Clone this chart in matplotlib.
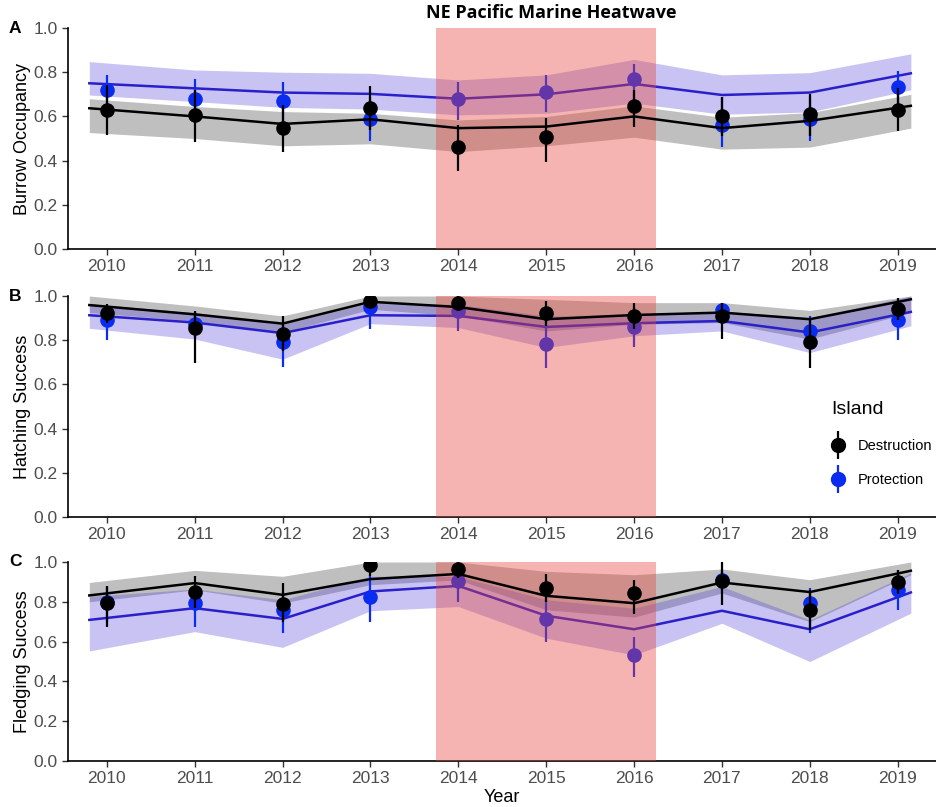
import numpy as np
import matplotlib
matplotlib.use("Agg")
import matplotlib.pyplot as plt
from matplotlib.lines import Line2D
from matplotlib.legend_handler import HandlerTuple

plt.rcParams['font.family'] = ['Liberation Sans', 'DejaVu Sans']

years = [2010, 2011, 2012, 2013, 2014, 2015, 2016, 2017, 2018, 2019]
fit_x = [2009.8, 2011, 2012, 2013, 2014, 2015, 2016, 2017, 2018, 2019.15]
heatwave = (2013.75, 2016.25)

# Panel A - burrow occupancy
a_dest_fit = [0.637, 0.600, 0.566, 0.587, 0.547, 0.554, 0.600, 0.547, 0.580, 0.648]
a_dest_lo = [0.527, 0.500, 0.467, 0.476, 0.441, 0.467, 0.506, 0.452, 0.461, 0.547]
a_dest_hi = [0.680, 0.645, 0.622, 0.614, 0.584, 0.600, 0.648, 0.596, 0.617, 0.700]
a_prot_fit = [0.750, 0.727, 0.708, 0.702, 0.680, 0.700, 0.747, 0.697, 0.708, 0.795]
a_prot_lo = [0.697, 0.667, 0.641, 0.633, 0.607, 0.614, 0.660, 0.610, 0.620, 0.720]
a_prot_hi = [0.848, 0.810, 0.800, 0.795, 0.765, 0.788, 0.858, 0.788, 0.798, 0.883]
a_dest_mean = [0.630, 0.607, 0.547, 0.640, 0.460, 0.505, 0.648, 0.602, 0.610, 0.630]
a_dest_low = [0.517, 0.486, 0.437, 0.540, 0.355, 0.392, 0.550, 0.510, 0.510, 0.532]
a_dest_high = [0.740, 0.720, 0.650, 0.738, 0.560, 0.595, 0.720, 0.690, 0.700, 0.730]
a_prot_mean = [0.720, 0.680, 0.670, 0.589, 0.680, 0.709, 0.770, 0.562, 0.589, 0.732]
a_prot_low = [0.650, 0.600, 0.580, 0.490, 0.584, 0.622, 0.675, 0.460, 0.490, 0.650]
a_prot_high = [0.788, 0.768, 0.757, 0.690, 0.757, 0.788, 0.837, 0.690, 0.690, 0.807]

# Panel B - hatching success
b_dest_fit = [0.959, 0.917, 0.875, 0.974, 0.950, 0.895, 0.914, 0.925, 0.895, 0.985]
b_dest_lo = [0.925, 0.887, 0.835, 0.940, 0.910, 0.842, 0.872, 0.880, 0.805, 0.925]
b_dest_hi = [1.000, 0.955, 0.910, 1.000, 1.000, 0.985, 0.970, 0.970, 0.935, 1.000]
b_prot_fit = [0.913, 0.880, 0.832, 0.913, 0.910, 0.860, 0.877, 0.887, 0.835, 0.928]
b_prot_lo = [0.854, 0.805, 0.714, 0.875, 0.857, 0.767, 0.820, 0.842, 0.744, 0.865]
b_prot_hi = [0.965, 0.925, 0.872, 0.970, 0.962, 0.910, 0.917, 0.932, 0.902, 1.000]
b_dest_mean = [0.922, 0.853, 0.827, 0.977, 0.970, 0.925, 0.910, 0.910, 0.790, 0.940]
b_dest_low = [0.880, 0.695, 0.750, 0.950, 0.930, 0.865, 0.850, 0.805, 0.674, 0.890]
b_dest_high = [0.962, 0.930, 0.910, 1.000, 1.000, 0.977, 0.967, 0.970, 0.900, 0.990]
b_prot_mean = [0.890, 0.872, 0.790, 0.950, 0.930, 0.782, 0.860, 0.935, 0.842, 0.890]
b_prot_low = [0.800, 0.810, 0.680, 0.850, 0.842, 0.672, 0.771, 0.900, 0.780, 0.800]
b_prot_high = [0.950, 0.928, 0.870, 1.000, 1.000, 0.890, 0.950, 0.970, 0.910, 0.970]

# Panel C - fledging success
c_dest_fit = [0.832, 0.894, 0.835, 0.914, 0.940, 0.830, 0.793, 0.897, 0.849, 0.956]
c_dest_lo = [0.800, 0.860, 0.793, 0.886, 0.910, 0.760, 0.723, 0.844, 0.700, 0.936]
c_dest_hi = [0.897, 0.958, 0.928, 1.000, 1.000, 0.953, 0.936, 0.965, 0.911, 1.000]
c_prot_fit = [0.709, 0.768, 0.714, 0.852, 0.880, 0.730, 0.662, 0.755, 0.662, 0.847]
c_prot_lo = [0.553, 0.650, 0.571, 0.755, 0.776, 0.617, 0.533, 0.692, 0.500, 0.743]
c_prot_hi = [0.827, 0.864, 0.810, 0.928, 0.928, 0.810, 0.768, 0.877, 0.709, 0.945]
c_dest_mean = [0.793, 0.849, 0.788, 0.983, 0.966, 0.869, 0.844, 0.902, 0.760, 0.900]
c_dest_low = [0.672, 0.770, 0.700, 0.930, 0.920, 0.800, 0.740, 0.785, 0.660, 0.840]
c_dest_high = [0.880, 0.928, 0.894, 1.000, 1.000, 0.940, 0.910, 1.000, 0.860, 0.960]
c_prot_mean = [0.800, 0.793, 0.760, 0.822, 0.902, 0.714, 0.533, 0.910, 0.793, 0.860]
c_prot_low = [0.700, 0.672, 0.642, 0.700, 0.800, 0.600, 0.424, 0.860, 0.642, 0.760]
c_prot_high = [0.877, 0.880, 0.850, 0.930, 1.000, 0.820, 0.625, 0.960, 0.869, 0.960]

panels = [
    ("A", "Burrow Occupancy", a_dest_fit, a_dest_lo, a_dest_hi, a_prot_fit, a_prot_lo, a_prot_hi,
     a_dest_mean, a_dest_low, a_dest_high, a_prot_mean, a_prot_low, a_prot_high),
    ("B", "Hatching Success", b_dest_fit, b_dest_lo, b_dest_hi, b_prot_fit, b_prot_lo, b_prot_hi,
     b_dest_mean, b_dest_low, b_dest_high, b_prot_mean, b_prot_low, b_prot_high),
    ("C", "Fledging Success", c_dest_fit, c_dest_lo, c_dest_hi, c_prot_fit, c_prot_lo, c_prot_hi,
     c_dest_mean, c_dest_low, c_dest_high, c_prot_mean, c_prot_low, c_prot_high),
]

# axes boxes in figure fraction [left, bottom, width, height]
boxes = [[0.0726, 0.6914, 0.927, 0.2739],
         [0.0726, 0.3594, 0.927, 0.2738],
         [0.0726, 0.0570, 0.927, 0.2466]]

blue_pt = '#0A2BF0'
blue_line = '#2A1FC9'
blue_fill = '#4B3BD8'

fig = plt.figure(figsize=(9.36, 8.07), dpi=100)
for (lab, ylab, dfit, dlo, dhi, pfit, plo, phi, dm, dl, dh, pm, pl, ph), box in zip(panels, boxes):
    ax = fig.add_axes(box)
    ax.fill_between(fit_x, dlo, dhi, color='black', alpha=0.25, linewidth=0, zorder=1)
    ax.fill_between(fit_x, plo, phi, color=blue_fill, alpha=0.3, linewidth=0, zorder=1)
    ax.plot(fit_x, pfit, color=blue_line, lw=1.8, zorder=2)
    pm_a = np.array(pm)
    dm_a = np.array(dm)
    ax.errorbar(years, pm, yerr=[pm_a - np.array(pl), np.array(ph) - pm_a], fmt='o',
                color=blue_pt, ms=9.5, elinewidth=1.6, capsize=0, zorder=3)
    ax.axvspan(heatwave[0], heatwave[1], ymin=0, ymax=1, color='#E8453C', alpha=0.4,
               linewidth=0, zorder=5)
    ax.plot(fit_x, dfit, color='black', lw=1.8, zorder=6)
    ax.errorbar(years, dm, yerr=[dm_a - np.array(dl), np.array(dh) - dm_a], fmt='o',
                color='black', ms=9.5, elinewidth=1.6, capsize=0, zorder=7)
    ax.set_xlim(2009.557, 2019.432)
    ax.set_ylim(0, 1)
    ax.set_xticks(years)
    ax.set_yticks([0, 0.2, 0.4, 0.6, 0.8, 1.0])
    ax.set_yticklabels(['0.0', '0.2', '0.4', '0.6', '0.8', '1.0'])
    ax.tick_params(labelsize=12.5, labelcolor='#4D4D4D', length=4, width=1, color='#333333')
    for s in ['top', 'right']:
        ax.spines[s].set_visible(False)
    for s in ['left', 'bottom']:
        ax.spines[s].set_linewidth(1.2)
        ax.spines[s].set_color('black')
    ax.set_ylabel(ylab, fontsize=13, color='black', labelpad=2)
    ax.text(-0.068, 1.0, lab, transform=ax.transAxes, fontsize=12.5, fontweight='bold',
            ha='left', va='center')
    if lab == "C":
        ax.set_xlabel("Year", fontsize=13, labelpad=2)

fig.text(0.589, 0.984, "NE Pacific Marine Heatwave", family=['Open Sans', 'DejaVu Sans'],
         fontweight='bold', fontsize=13, ha='center', va='center')

handles = []
for c in ['black', blue_pt]:
    bar = Line2D([], [], marker='|', ms=20, mew=1.6, color=c, linestyle='none')
    dot = Line2D([], [], marker='o', ms=10, color=c, linestyle='none')
    handles.append((bar, dot))
leg = fig.legend(handles, ['Destruction', 'Protection'], title='Island', loc='upper left',
                 bbox_to_anchor=(0.874, 0.519), frameon=False, fontsize=10.5,
                 title_fontsize=14, handlelength=1.0, handletextpad=0.8, labelspacing=1.4,
                 handler_map={tuple: HandlerTuple(ndivide=1, pad=0)})
leg._legend_box.align = 'left'

fig.savefig('out.png', dpi=100)
